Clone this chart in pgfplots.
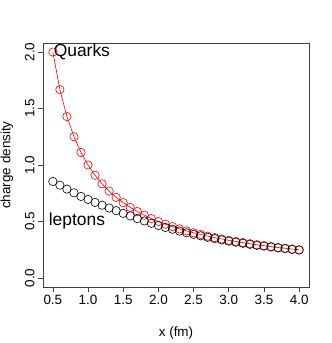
\documentclass[border=0pt]{standalone}
\usepackage{fontspec}
\setmainfont{Liberation Sans}
\usepackage{pgfplots}
\pgfplotsset{compat=1.18}

% charge density, x = 0.5 .. 4.0 step 0.1
\pgfplotstableread{
x    q      l
0.5  2.000  0.854
0.6  1.667  0.821
0.7  1.429  0.787
0.8  1.250  0.754
0.9  1.111  0.722
1.0  1.000  0.695
1.1  0.909  0.669
1.2  0.833  0.644
1.3  0.769  0.619
1.4  0.714  0.596
1.5  0.667  0.572
1.6  0.625  0.549
1.7  0.588  0.526
1.8  0.556  0.505
1.9  0.526  0.484
2.0  0.500  0.465
2.1  0.476  0.447
2.2  0.455  0.431
2.3  0.435  0.415
2.4  0.417  0.400
2.5  0.400  0.386
2.6  0.385  0.373
2.7  0.370  0.360
2.8  0.357  0.348
2.9  0.345  0.337
3.0  0.333  0.326
3.1  0.323  0.317
3.2  0.313  0.307
3.3  0.303  0.298
3.4  0.294  0.289
3.5  0.286  0.282
3.6  0.278  0.274
3.7  0.270  0.266
3.8  0.263  0.260
3.9  0.256  0.253
4.0  0.250  0.247
}\dens

\begin{document}
\begin{tikzpicture}
\path[use as bounding box] (-43bp,-56bp) rectangle (289bp,287bp);
\begin{axis}[
    scale only axis,
    width=266bp, height=244bp,
    xmin=0.36, xmax=4.14,
    ymin=-0.08, ymax=2.08,
    xtick={0.5,1.0,1.5,2.0,2.5,3.0,3.5,4.0},
    ytick={0,0.5,1.0,1.5,2.0},
    tick pos=left,
    tick align=outside,
    major tick length=5bp,
    axis line style={line width=0.6bp, black!75},
    tick style={line width=0.6bp, black!75},
    /pgf/number format/assume math mode=true,
    /pgf/number format/fixed,
    /pgf/number format/fixed zerofill,
    /pgf/number format/precision=1,
    yticklabel style={rotate=90, anchor=south},
    tick label style={font=\fontsize{13.5}{16}\selectfont},
    label style={font=\fontsize{13.5}{16}\selectfont},
    xlabel={x (fm)},
    ylabel={charge density},
    xlabel style={at={(axis description cs:0.5,-0.1885)}, anchor=center},
    ylabel style={at={(axis description cs:-0.1353,0.5)}, anchor=center},
    clip=false,
]
\addplot[red, line width=0.6bp, mark=o, mark size=4.2bp,
    mark options={line width=0.6bp}] table[x=x, y=q] {\dens};
\addplot[black, only marks, mark=o, mark size=4.2bp,
    mark options={line width=0.6bp}] table[x=x, y=l] {\dens};
\node[anchor=west, inner sep=0pt, font=\fontsize{17.5}{20}\selectfont]
    at (axis cs:0.51,2.0) {Quarks};
\node[anchor=west, inner sep=0pt, font=\fontsize{17.5}{20}\selectfont]
    at (axis cs:0.44,0.5) {leptons};
\end{axis}
\end{tikzpicture}
\end{document}
